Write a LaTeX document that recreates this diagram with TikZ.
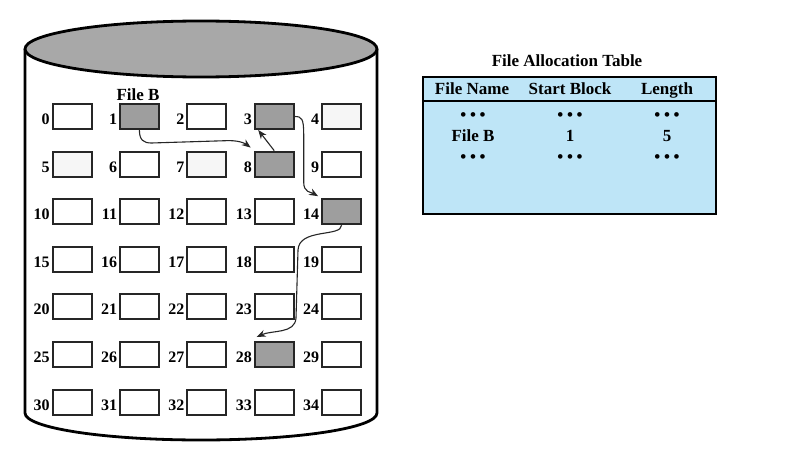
\documentclass[tikz,border=0pt]{standalone}
\usepackage{fontspec}
\setmainfont{Liberation Serif}
\usetikzlibrary{arrows.meta,calc}
\definecolor{fillgray}{RGB}{158,158,158}
\definecolor{topgray}{RGB}{168,168,168}
\definecolor{lightbox}{RGB}{246,246,246}
\definecolor{fatblue}{RGB}{190,229,247}
\tikzset{
  blk/.style={draw=black!85, line width=1pt, fill=white, minimum width=19.5pt, minimum height=12.5pt, inner sep=0pt},
  numlbl/.style={font=\bfseries\fontsize{8}{9}\selectfont, inner sep=0pt, anchor=base east},
  lbl/.style={font=\bfseries\fontsize{8.5}{10}\selectfont, inner sep=0pt, anchor=base},
  dots/.style={font=\bfseries\fontsize{8.5}{10}\selectfont, inner sep=0pt},
  arr/.style={line width=0.55pt, black!85, -{Stealth[length=4.5pt,width=3.5pt]}},
  sh1/.style={fill=fillgray}, sh3/.style={fill=fillgray}, sh8/.style={fill=fillgray},
  sh14/.style={fill=fillgray}, sh28/.style={fill=fillgray},
  sh4/.style={fill=lightbox}, sh5/.style={fill=lightbox}, sh7/.style={fill=lightbox}
}
\begin{document}
\begin{tikzpicture}[x=0.5pt,y=-0.5pt]
\useasboundingbox (0,0) rectangle (785,460);
% cylinder
\draw[line width=1.4pt, fill=white] (25,49) -- (25,413)
  arc[start angle=180, end angle=0, x radius=176, y radius=27] -- (377,49);
\draw[line width=1.4pt, fill=topgray] (201,49) ellipse [x radius=176, y radius=28];
% blocks
\foreach \r in {0,...,6}{
  \foreach \c in {0,...,4}{
    \pgfmathtruncatemacro\n{5*\r+\c}
    \node[blk, sh\n/.try] (b\n) at ({72+67.4*\c},{116.5+47.6*\r}) {};
    \node[numlbl] (n\n) at ($(b\n.west)+(-1.5,8)$) {\n};
  }
}
\node[lbl] (fileb) at (138,100) {File B};
% chain
\coordinate (c18) at ($(b1.south)+(12,13)$);
\draw[arr] (b1.south) .. controls ($(b1.south)+(0,10)$) and ($(b1.south)+(4,13)$) .. (c18)
  -- ($(b8.north west)+(-25,-10)$) .. controls ($(b8.north west)+(-12,-10)$) and ($(b8.north west)+(-7,-6)$) .. ($(b8.north west)+(-3,-3)$);
\draw[arr] (b8.north) -- ($(b3.south)+(-16,0)$);
\coordinate (c314) at ($(b3.east)+(9,18)$);
\draw[arr] (b3.east) .. controls ($(b3.east)+(7,0)$) and ($(b3.east)+(9,2)$) .. (c314)
  -- ($(b3.east)+(9,66)$) .. controls ($(b3.east)+(9,76)$) and ($(b14.north west)+(-10,-6)$) .. ($(b14.north west)+(-3,-2)$);
\coordinate (c1428) at (298,250);
\draw[arr] (b14.south) .. controls ($(b14.south)+(0,12)$) and (299,228) .. (c1428)
  -- (296,318) .. controls (295,334) and (272,330) .. ($(b28.north west)+(3,-4)$);
% table
\node[lbl] (fattitle) at (567,66.5) {File Allocation Table};
\draw[line width=1pt, fill=fatblue] (423,77) rectangle (716,214);
\draw[line width=1pt] (423,101) -- (716,101);
\node[lbl] (h1) at (472,95) {File Name};
\node[lbl] (h2) at (570,95) {Start Block};
\node[lbl] (h3) at (667,95) {Length};
\foreach \x/\k in {473/1,570/2,667/3}{
  \node[dots] (da\k) at (\x,117) {•\hspace{1.8pt}•\hspace{1.8pt}•};
  \node[dots] (db\k) at (\x,159) {•\hspace{1.8pt}•\hspace{1.8pt}•};
}
\node[lbl] (r1) at (473,141.5) {File B};
\node[lbl] (r2) at (570,141.5) {1};
\node[lbl] (r3) at (667,141.5) {5};
\end{tikzpicture}
\end{document}
